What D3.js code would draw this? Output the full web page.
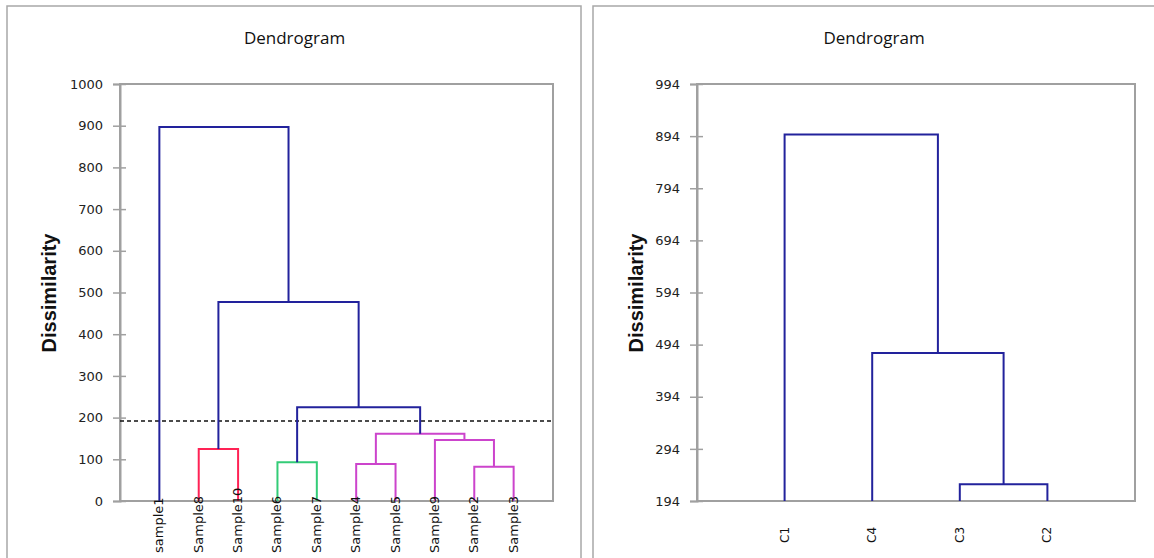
<!DOCTYPE html>
<html>
<head>
<meta charset="utf-8">
<script src="https://cdn.jsdelivr.net/npm/d3@7"></script>
<style>
  body { margin: 0; background: #fff; }
  svg { display: block; }
</style>
</head>
<body>
<div id="chart"></div>
<script>
// left dendrogram: leaves in display order, merges as [childA, childB, height]
// node ids: leaves 0..n-1, then each merge gets the next id
const leftLeaves = ["sample1", "Sample8", "Sample10", "Sample6", "Sample7",
                    "Sample4", "Sample5", "Sample9", "Sample2", "Sample3"];
const leftMerges = [
  [1, 2, 125],   // 10
  [3, 4, 93],    // 11
  [5, 6, 89],    // 12
  [8, 9, 82],    // 13
  [7, 13, 146],  // 14
  [12, 14, 161], // 15
  [11, 15, 225], // 16
  [10, 16, 477], // 17
  [0, 17, 897]   // 18
];
const leftGroups = [1, 2, 3, 3, 3, 3, 0, 0, 0];
const leftTicks = [0, 100, 200, 300, 400, 500, 600, 700, 800, 900, 1000];
const cutLevel = 192;

// right dendrogram (clusters)
const rightLeaves = ["C1", "C4", "C3", "C2"];
const rightMerges = [
  [2, 3, 226],
  [1, 4, 478],
  [0, 5, 897]
];
const rightGroups = [0, 0, 0];
const rightTicks = [194, 294, 394, 494, 594, 694, 794, 894, 994];

const groupColors = ["#22229c", "#ff2255", "#33cc77", "#cc44cc"];

const W = 1154, H = 558;
const svg = d3.select("#chart").append("svg")
  .attr("width", W).attr("height", H);

// panel frames
svg.append("rect").attr("x", 7).attr("y", 6).attr("width", 574).attr("height", 620)
  .attr("fill", "none").attr("stroke", "#a8a8a8").attr("stroke-width", 1.5);
svg.append("rect").attr("x", 593).attr("y", 6).attr("width", 620).attr("height", 620)
  .attr("fill", "none").attr("stroke", "#a8a8a8").attr("stroke-width", 1.5);

function drawDendro(opt) {
  const g = svg.append("g");
  const x = d3.scaleLinear().domain([0, opt.leaves.length + 1]).range([opt.left, opt.right]);
  const y = d3.scaleLinear().domain(opt.domain).range([opt.bottom, opt.top]);

  // title
  g.append("text")
    .attr("x", (opt.left + opt.right) / 2 + opt.titleShift)
    .attr("y", 44)
    .attr("text-anchor", "middle")
    .attr("font-family", "Open Sans, DejaVu Sans, sans-serif")
    .attr("font-size", "17px")
    .attr("fill", "#111")
    .text("Dendrogram");

  // plot border
  g.append("rect")
    .attr("x", opt.left).attr("y", opt.top)
    .attr("width", opt.right - opt.left).attr("height", opt.bottom - opt.top)
    .attr("fill", "none").attr("stroke", "#a0a0a0").attr("stroke-width", 2);

  // y axis with cross ticks
  const ax = g.append("g")
    .attr("transform", `translate(${opt.left},0)`)
    .call(d3.axisLeft(y).tickValues(opt.ticks).tickSize(7).tickPadding(10).tickFormat(d3.format("d")));
  ax.select(".domain").attr("stroke", "#a0a0a0").attr("stroke-width", 2);
  ax.selectAll(".tick line").attr("x1", 6).attr("stroke", "#a0a0a0").attr("stroke-width", 1.5);
  ax.selectAll(".tick text")
    .attr("font-family", "DejaVu Sans, sans-serif")
    .attr("font-size", "13px")
    .attr("fill", "#222");

  // axis title
  g.append("text")
    .attr("transform", `translate(${opt.titleX},293) rotate(-90)`)
    .attr("text-anchor", "middle")
    .attr("font-family", "Liberation Sans, Arial, sans-serif")
    .attr("font-weight", "bold")
    .attr("font-size", "20px")
    .attr("fill", "#111")
    .text("Dissimilarity");

  // node positions
  const nodes = opt.leaves.map((name, i) => ({ x: x(i + 1), h: opt.domain[0] }));
  opt.merges.forEach(m => {
    const a = nodes[m[0]], b = nodes[m[1]];
    nodes.push({ x: (a.x + b.x) / 2, h: m[2] });
  });

  // cut line (under the branches)
  if (opt.cut != null) {
    g.append("line")
      .attr("x1", opt.left).attr("x2", opt.right)
      .attr("y1", y(opt.cut)).attr("y2", y(opt.cut))
      .attr("stroke", "#111").attr("stroke-width", 1.5)
      .attr("stroke-dasharray", "4,3");
  }

  // branches: each merge drawn as an upside-down U
  g.selectAll("path.link")
    .data(opt.merges)
    .join("path")
      .attr("class", "link")
      .attr("fill", "none")
      .attr("stroke", (d, i) => groupColors[opt.groups[i]])
      .attr("stroke-width", 2)
      .attr("d", d => {
        const a = nodes[d[0]], b = nodes[d[1]];
        return `M${a.x},${y(a.h)}V${y(d[2])}H${b.x}V${y(b.h)}`;
      });

  // leaf labels
  g.selectAll("text.leaf")
    .data(opt.leaves)
    .join("text")
      .attr("class", "leaf")
      .attr("transform", (d, i) => `translate(${x(i + 1) + 4},${opt.labelY}) rotate(-90)`)
      .attr("text-anchor", "start")
      .attr("font-family", "DejaVu Sans, sans-serif")
      .attr("font-size", opt.labelSize)
      .attr("fill", "#111")
      .text(d => d);
}

drawDendro({
  leaves: leftLeaves, merges: leftMerges, groups: leftGroups,
  ticks: leftTicks, domain: [0, 1000], cut: cutLevel,
  left: 120, right: 553, top: 84, bottom: 501,
  titleX: 56, titleShift: -42, labelY: 553, labelSize: "13px"
});

drawDendro({
  leaves: rightLeaves, merges: rightMerges, groups: rightGroups,
  ticks: rightTicks, domain: [194, 994], cut: null,
  left: 697, right: 1135, top: 84, bottom: 501,
  titleX: 643, titleShift: -42, labelY: 543, labelSize: "12px"
});
</script>
</body>
</html>
